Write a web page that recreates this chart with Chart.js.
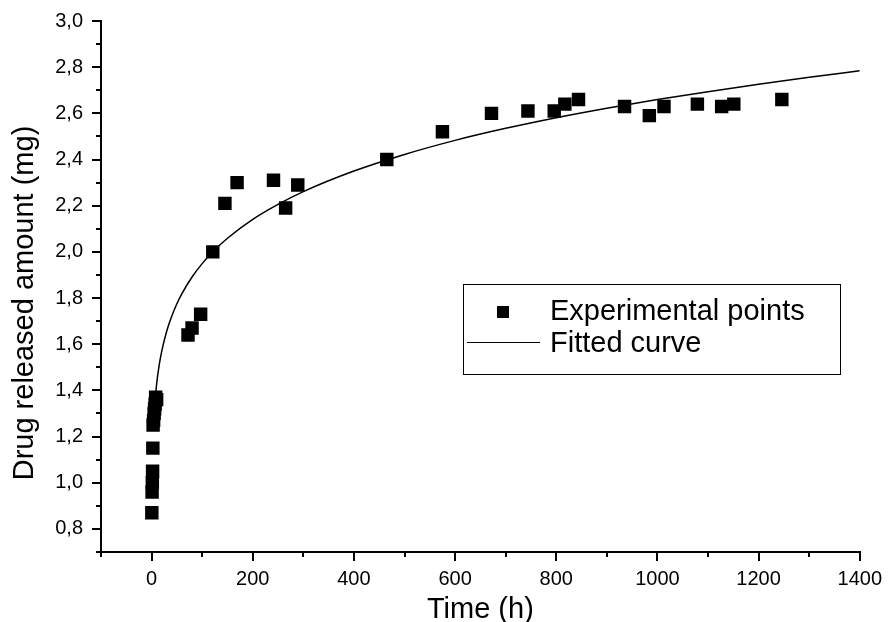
<!DOCTYPE html>
<html lang="en">
<head>
    <meta charset="UTF-8">
    <title>Drug release</title>
    <script src="https://cdn.jsdelivr.net/npm/chart.js"></script>
    <style>
        body {
            margin: 0;
            padding: 0;
            background-color: #fff;
        }
        canvas {
            display: block;
        }
    </style>
</head>
<body>
    <canvas id="releaseChart" width="888" height="622"></canvas>

    <script>
        // Experimental points (time in h, amount in mg)
        const expTime = [0.5, 1, 1.5, 2, 2.5, 3, 4, 5, 6, 7, 8, 10,
            72, 80, 97, 121, 145, 169, 241, 265, 289, 465, 575,
            672, 744, 796, 817, 844, 935, 984, 1013, 1079, 1127, 1151, 1246];
        const expAmount = [0.87, 0.96, 1.00, 1.05, 1.15, 1.25, 1.27, 1.30, 1.32, 1.34, 1.37, 1.36,
            1.64, 1.67, 1.73, 2.00, 2.21, 2.30, 2.31, 2.19, 2.29, 2.40, 2.52,
            2.60, 2.61, 2.61, 2.64, 2.66, 2.63, 2.59, 2.63, 2.64, 2.63, 2.64, 2.66];

        // Fitted curve
        const fitTime = [4, 6, 10, 15, 20, 30, 40, 50, 60, 80, 100, 120, 150, 200, 250, 300,
            400, 500, 600, 700, 800, 900, 1000, 1100, 1200, 1300, 1400];
        const fitAmount = [1.262, 1.333, 1.428, 1.509, 1.569, 1.657, 1.722, 1.775, 1.819, 1.891, 1.949, 1.998,
            2.059, 2.141, 2.206, 2.261, 2.350, 2.422, 2.483, 2.535, 2.581, 2.622, 2.660, 2.694, 2.726, 2.756, 2.784];

        const xTitle = "Time (h)";
        const yTitle = "Drug released amount (mg)";
        const seriesLabels = ["Experimental points", "Fitted curve"];

        const FONT = "Arial, 'Liberation Sans', sans-serif";
        Chart.defaults.font.family = FONT;
        Chart.defaults.color = "#000";

        const isMajorX = v => Math.round(v) % 200 === 0;
        const isMajorY = v => Math.round(v * 10) % 2 === 0;

        // short minor ticks, titles and the boxed legend
        const extras = {
            id: "extras",
            afterDraw(chart) {
                const ctx = chart.ctx;
                const xs = chart.scales.x, ys = chart.scales.y;
                const area = chart.chartArea;
                ctx.save();
                ctx.strokeStyle = "#000";
                ctx.lineWidth = 2;
                ctx.beginPath();
                xs.ticks.forEach(t => {
                    if (isMajorX(t.value)) return;
                    const px = Math.round(xs.getPixelForValue(t.value));
                    ctx.moveTo(px, area.bottom);
                    ctx.lineTo(px, area.bottom + 5);
                });
                ys.ticks.forEach(t => {
                    if (isMajorY(t.value)) return;
                    const py = Math.round(ys.getPixelForValue(t.value));
                    ctx.moveTo(area.left, py);
                    ctx.lineTo(area.left - 5, py);
                });
                ctx.stroke();

                // axis titles
                ctx.fillStyle = "#000";
                ctx.font = "29px " + FONT;
                ctx.textAlign = "center";
                ctx.textBaseline = "middle";
                ctx.fillText(xTitle, (area.left + area.right) / 2, 610);
                ctx.save();
                ctx.translate(25, 303);
                ctx.rotate(-Math.PI / 2);
                ctx.fillText(yTitle, 0, 0);
                ctx.restore();

                // legend box
                ctx.lineWidth = 1;
                ctx.strokeRect(463.5, 284.5, 377, 90);
                ctx.font = "29px " + FONT;
                ctx.textAlign = "left";
                const ds = chart.data.datasets;
                ctx.fillRect(497, 306, 12, 12);
                ctx.fillText(ds[0].label, 550, 312);
                ctx.beginPath();
                ctx.moveTo(467, 342.5);
                ctx.lineTo(540, 342.5);
                ctx.stroke();
                ctx.fillText(ds[1].label, 550, 344);
                ctx.restore();
            }
        };

        const ctx = document.getElementById("releaseChart").getContext("2d");
        new Chart(ctx, {
            type: "scatter",
            data: {
                datasets: [
                    {
                        label: seriesLabels[0],
                        data: expTime.map((t, i) => ({ x: t, y: expAmount[i] })),
                        pointStyle: "rect",
                        pointRadius: 9.5,
                        pointBorderWidth: 0,
                        backgroundColor: "#000",
                        borderColor: "#000"
                    },
                    {
                        label: seriesLabels[1],
                        data: fitTime.map((t, i) => ({ x: t, y: fitAmount[i] })),
                        showLine: true,
                        pointRadius: 0,
                        borderWidth: 1.5,
                        borderColor: "#000",
                        cubicInterpolationMode: "monotone"
                    }
                ]
            },
            options: {
                responsive: false,
                animation: false,
                layout: { padding: { left: 0, right: 27, top: 16, bottom: 0 } },
                plugins: {
                    legend: { display: false },
                    tooltip: { enabled: false }
                },
                scales: {
                    x: {
                        type: "linear",
                        min: -100,
                        max: 1400,
                        afterFit: s => { s.height = 70; },
                        border: { display: true, color: "#000", width: 2 },
                        grid: {
                            drawOnChartArea: false,
                            tickLength: 9,
                            lineWidth: 2,
                            color: c => isMajorX(c.tick.value) ? "#000" : "rgba(0,0,0,0)"
                        },
                        ticks: {
                            stepSize: 100,
                            autoSkip: false,
                            maxRotation: 0,
                            padding: 6,
                            font: { size: 20 },
                            callback: v => isMajorX(v) ? String(v) : ""
                        }
                    },
                    y: {
                        min: 0.7,
                        max: 3.0,
                        afterFit: s => { s.width = 101; },
                        border: { display: true, color: "#000", width: 2 },
                        grid: {
                            drawOnChartArea: false,
                            tickLength: 9,
                            lineWidth: 2,
                            color: c => isMajorY(c.tick.value) ? "#000" : "rgba(0,0,0,0)"
                        },
                        ticks: {
                            stepSize: 0.1,
                            autoSkip: false,
                            padding: 9,
                            font: { size: 20 },
                            callback: v => isMajorY(v) ? v.toFixed(1).replace(".", ",") : ""
                        }
                    }
                }
            },
            plugins: [extras]
        });
    </script>
</body>
</html>
